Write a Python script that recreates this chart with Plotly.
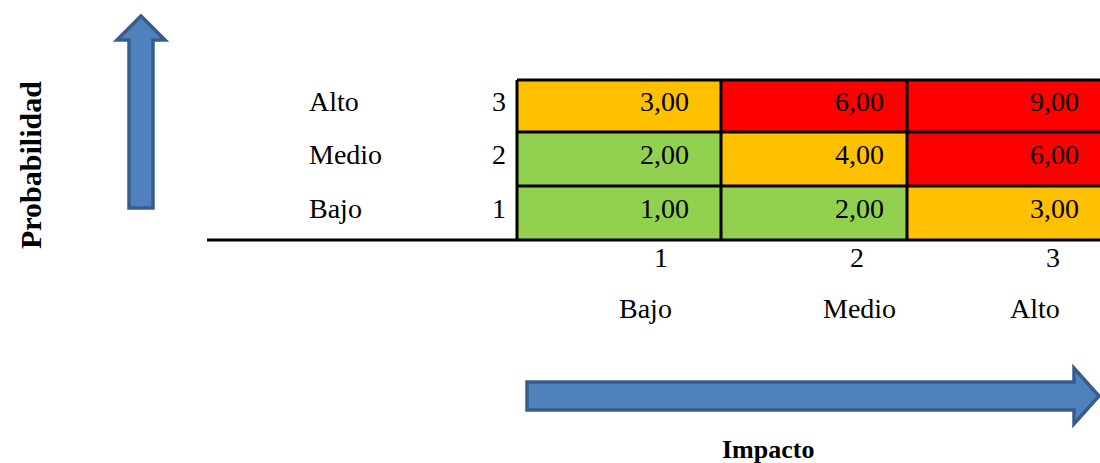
import plotly.graph_objects as go

# ---- data ----
impact_levels = [1, 2, 3]
impact_labels = ["Bajo", "Medio", "Alto"]
prob_levels = [3, 2, 1]          # top to bottom
prob_labels = ["Alto", "Medio", "Bajo"]
risk_values = [
    [3, 6, 9],
    [2, 4, 6],
    [1, 2, 3],
]
x_title = "Impacto"
y_title = "Probabilidad"

# ---- layout geometry (pixel space) ----
W, H = 1100, 463
col_edges = [517, 721, 907, 1103]
row_edges = [80, 132, 186, 240]
text_right = [691, 886, 1081]
FONT = "Liberation Serif"
FS = 28
TEXT_SHIFT = -5
GREEN, ORANGE, RED = "#92D050", "#FFC000", "#FF0000"
ARROW_FILL, ARROW_LINE = "#4F81BD", "#385D8A"

fig = go.Figure()

fig.add_trace(go.Heatmap(
    x=col_edges, y=row_edges, z=risk_values,
    zmin=1, zmax=9,
    colorscale=[[0, GREEN], [0.2, GREEN], [0.2, ORANGE], [0.5, ORANGE],
                [0.5, RED], [1, RED]],
    showscale=False, hoverinfo="skip",
))

shapes = []
# grid borders
for xe in col_edges[:-1]:
    shapes.append(dict(type="line", x0=xe, x1=xe, y0=row_edges[0], y1=row_edges[-1],
                       line=dict(color="black", width=3)))
for ye in row_edges[:-1]:
    shapes.append(dict(type="line", x0=col_edges[0], x1=col_edges[-1], y0=ye, y1=ye,
                       line=dict(color="black", width=3)))
# bottom baseline
shapes.append(dict(type="line", x0=207, x1=1103, y0=row_edges[-1], y1=row_edges[-1],
                   line=dict(color="black", width=3)))
# up arrow
shapes.append(dict(type="path",
                   path="M 129,208 L 129,40 L 117,40 L 141,16 L 165,40 L 153,40 L 153,208 Z",
                   fillcolor=ARROW_FILL, line=dict(color=ARROW_LINE, width=3.5)))
# right arrow
shapes.append(dict(type="path",
                   path="M 527,382 L 1074,382 L 1074,368 L 1099,396 L 1074,424 L 1074,410 L 527,410 Z",
                   fillcolor=ARROW_FILL, line=dict(color=ARROW_LINE, width=3.5)))
for s in shapes:
    s.update(xref="x", yref="y", layer="above")
fig.update_layout(shapes=shapes)

annotations = []
# cell values
for r, row in enumerate(risk_values):
    yc = (row_edges[r] + row_edges[r + 1]) / 2 + TEXT_SHIFT
    for c, v in enumerate(row):
        annotations.append(dict(x=text_right[c], y=yc, text=f"{v:.2f}".replace(".", ","),
                                xanchor="right", yanchor="middle"))
    annotations.append(dict(x=307, y=yc, text=prob_labels[r], xanchor="left", yanchor="middle"))
    annotations.append(dict(x=508, y=yc, text=str(prob_levels[r]), xanchor="right", yanchor="middle"))
# impact labels
impact_x = [661, 857, 1053]
label_x = [645, 859, 1035]
for c in range(3):
    annotations.append(dict(x=impact_x[c], y=257, text=str(impact_levels[c]),
                            xanchor="center", yanchor="middle"))
    annotations.append(dict(x=label_x[c], y=308,
                            text=impact_labels[c], xanchor="center", yanchor="middle"))
# axis titles
annotations.append(dict(x=768, y=449, text=f"<b>{x_title}</b>", xanchor="center",
                        yanchor="middle", font=dict(size=26)))
annotations.append(dict(x=30, y=165, text=f"<b>{y_title}</b>", textangle=-90,
                        xanchor="center", yanchor="middle", font=dict(size=30)))
for a in annotations:
    a.update(xref="x", yref="y", showarrow=False)
    a.setdefault("font", dict(size=FS))
    a["font"].update(family=FONT, color="black")
fig.update_layout(annotations=annotations)

fig.update_layout(
    width=W, height=H, margin=dict(l=0, r=0, t=0, b=0),
    paper_bgcolor="white", plot_bgcolor="white",
    xaxis=dict(range=[0, W], visible=False, fixedrange=True),
    yaxis=dict(range=[H, 0], visible=False, fixedrange=True),
    showlegend=False,
)

fig.write_html("out.html")
